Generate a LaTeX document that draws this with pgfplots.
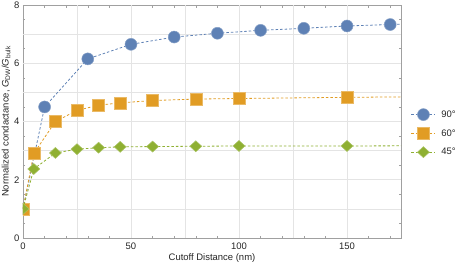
\documentclass[border=0pt]{standalone}
\usepackage{pgfplots}
\pgfplotsset{compat=1.18}
\usepackage{fontspec}
\setmainfont{Liberation Sans}
\definecolor{c1}{HTML}{5E81B5}
\definecolor{c2}{HTML}{E19C24}
\definecolor{c3}{HTML}{8FB032}
\definecolor{frame}{HTML}{A0A0A0}
\definecolor{gridc}{HTML}{E4E4E4}
\begin{document}
\begin{tikzpicture}
\path[use as bounding box] (-23bp,-30bp) rectangle (438bp,238bp);
\begin{axis}[
  scale only axis, width=378bp, height=233bp,
  at={(0,0)}, anchor=south west,
  xmin=0, xmax=175, ymin=0, ymax=8,
  xtick={0,50,100,150}, minor xtick={10,20,...,170},
  ytick={0,2,4,6,8}, minor ytick={0.5,1,...,7.5},
  extra x ticks={25,50,75,100,125,150}, extra x tick labels={},
  extra y ticks={1,2,3,4,5,6,7}, extra y tick labels={},
  extra tick style={grid=major, major tick length=0pt, grid style={gridc, line width=0.7bp}},
  axis line style={frame, line width=0.8bp},
  every tick/.style={frame, line width=0.6bp},
  major tick length=4bp, minor tick length=2.5bp,
  tick label style={font=\fontsize{9.5}{10}\selectfont, text=black!85},
  /pgf/number format/assume math mode=true,
  xticklabel style={yshift=-1.5bp},
  label style={font=\fontsize{9.5}{10}\selectfont, text=black!85},
  xlabel={Cutoff Distance (nm)},
  ylabel={Normalized condactance, \textit{G}\textsubscript{DW}/\textit{G}\textsubscript{bulk}},
  xlabel style={yshift=3bp},
  ylabel style={yshift=-3bp},
  clip marker paths=true,
  legend style={at={(1.026,0.45)}, anchor=west, draw=none, fill=none, inner sep=0pt,
    font=\fontsize{9.5}{10}\selectfont, text=black!85, row sep=7bp,
    nodes={inner sep=1.5bp},
    /tikz/every odd column/.append style={column sep=4bp}},
  legend cell align=left,
  legend image code/.code={\draw[mark repeat=2,mark phase=2] plot coordinates {(0bp,0bp)(12bp,0bp)(24bp,0bp)};},
  every axis plot/.append style={line width=0.8bp, dash pattern=on 2.5bp off 2bp},
]
\addplot[c1, mark=*, mark size=6bp, mark options={solid, fill=c1, draw=c1!75!white, line width=0.5bp}]
  coordinates {(0,1)(10,4.5)(30,6.15)(50,6.65)(70,6.9)(90,7.03)(110,7.13)(130,7.2)(150,7.28)(170,7.33)(190,7.38)};
\addlegendentry{90°}
\addplot[c2, mark=square*, mark size=6bp, mark options={solid, fill=c2, draw=c2!70!white, line width=0.5bp}]
  coordinates {(0,1)(5,2.9)(15,4.0)(25,4.38)(35,4.56)(45,4.64)(60,4.72)(80,4.77)(100,4.79)(150,4.83)(200,4.86)};
\addlegendentry{60°}
\addplot[c3, mark=diamond*, mark size=5.5bp, mark options={solid, xscale=1.45, fill=c3, draw=c3!75!white, line width=0.5bp}]
  coordinates {(0,1)(5,2.37)(15,2.92)(25,3.05)(35,3.1)(45,3.13)(60,3.14)(80,3.15)(100,3.16)(150,3.16)(200,3.17)};
\addlegendentry{45°}
\end{axis}
\end{tikzpicture}
\end{document}
